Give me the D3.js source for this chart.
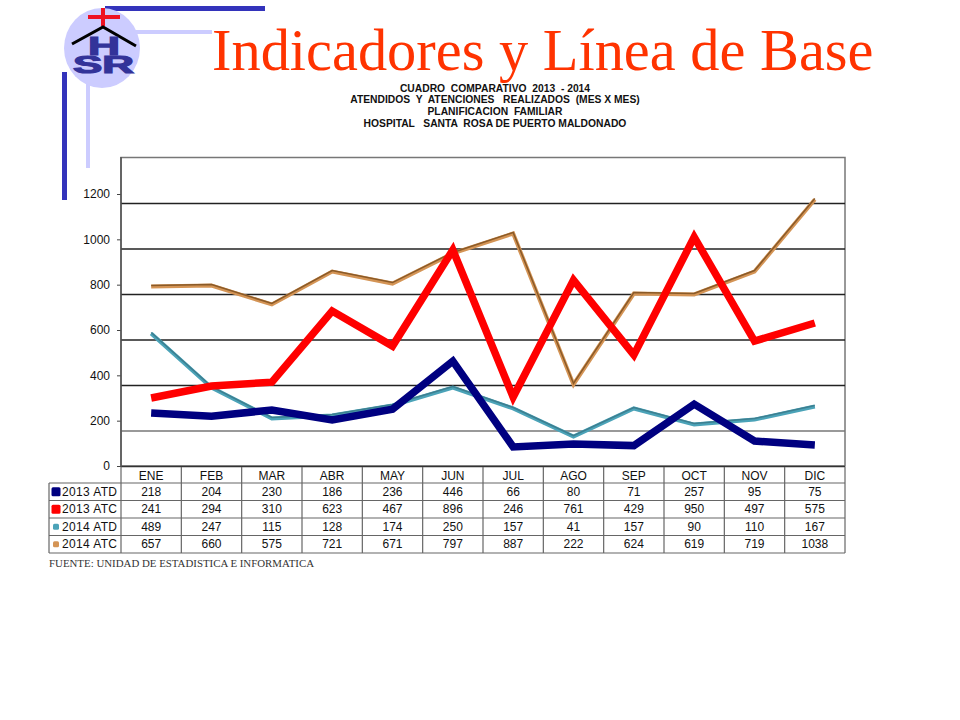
<!DOCTYPE html>
<html>
<head>
<meta charset="utf-8">
<script src="https://cdn.jsdelivr.net/npm/d3@7"></script>
<style>
body { margin: 0; background: #fff; }
svg { display: block; }
text { font-family: "Liberation Sans", Arial, sans-serif; fill: #111; }
</style>
</head>
<body>
<div id="chart"></div>
<script>
// Chart values
var months = ["ENE", "FEB", "MAR", "ABR", "MAY", "JUN", "JUL", "AGO", "SEP", "OCT", "NOV", "DIC"];
var seriesNames = ["2013 ATD", "2013 ATC", "2014 ATD", "2014 ATC"];
var yTicks = [0, 200, 400, 600, 800, 1000, 1200];
var gridValues = [154, 355, 556, 757, 957, 1158];

// Values in the table under the chart
var table2013Atd = [218, 204, 230, 186, 236, 446, 66, 80, 71, 257, 95, 75];
var table2013Atc = [241, 294, 310, 623, 467, 896, 246, 761, 429, 950, 497, 575];
var table2014Atd = [489, 247, 115, 128, 174, 250, 157, 41, 157, 90, 110, 167];
var table2014Atc = [657, 660, 575, 721, 671, 797, 887, 222, 624, 619, 719, 1038];

// Values as the lines are drawn (they differ from the table)
var line2013Atd = [234, 220, 247, 203, 251, 463, 84, 97, 90, 273, 110, 93];
var line2013Atc = [300, 353, 370, 684, 529, 953, 304, 820, 490, 1010, 551, 631];
var line2014Atd = [587, 348, 212, 225, 269, 348, 256, 132, 256, 185, 207, 265];
var line2014Atc = [794, 798, 715, 860, 807, 940, 1028, 362, 763, 759, 860, 1178];

var titleLines = [
    "CUADRO  COMPARATIVO  2013  - 2014",
    "ATENDIDOS  Y  ATENCIONES   REALIZADOS  (MES X MES)",
    "PLANIFICACION  FAMILIAR",
    "HOSPITAL   SANTA  ROSA DE PUERTO MALDONADO"
];

var svg = d3.select("#chart")
    .append("svg")
    .attr("width", 960)
    .attr("height", 720);

// Slide decoration and logo
var logo = svg.append("g");
logo.append("rect").attr("x", 105).attr("y", 6).attr("width", 160).attr("height", 5).attr("fill", "#3333bb");
logo.append("rect").attr("x", 62).attr("y", 72).attr("width", 5).attr("height", 128).attr("fill", "#3333bb");
logo.append("rect").attr("x", 130).attr("y", 30).attr("width", 82).attr("height", 4).attr("fill", "#ccccff");
logo.append("rect").attr("x", 86).attr("y", 80).attr("width", 4).attr("height", 88).attr("fill", "#ccccff");
logo.append("ellipse").attr("cx", 102).attr("cy", 48).attr("rx", 38).attr("ry", 40).attr("fill", "#ccccff");
logo.append("rect").attr("x", 88).attr("y", 15).attr("width", 32).attr("height", 4).attr("fill", "#ee1122");
logo.append("rect").attr("x", 101).attr("y", 8).attr("width", 4).attr("height", 18).attr("fill", "#ee1122");
logo.append("path").attr("d", "M72,44L103,27L136,46").attr("fill", "none").attr("stroke", "#000").attr("stroke-width", 3);
logo.append("text").attr("x", 88).attr("y", 55)
    .attr("textLength", 32).attr("lengthAdjust", "spacingAndGlyphs")
    .style("font-size", "26px").style("font-weight", "bold")
    .style("fill", "#333399").style("stroke", "#333399").style("stroke-width", 1.2).text("H");
logo.append("text").attr("x", 73).attr("y", 73)
    .attr("textLength", 61).attr("lengthAdjust", "spacingAndGlyphs")
    .style("font-size", "24px").style("font-weight", "bold")
    .style("fill", "#333399").style("stroke", "#333399").style("stroke-width", 1.2).text("SR");

// Slide title
svg.append("text")
    .attr("x", 212)
    .attr("y", 70)
    .style("font-family", "'Liberation Serif', serif")
    .style("font-size", "58.4px")
    .style("fill", "#ff3300")
    .text("Indicadores y Línea de Base");

// Chart title
svg.selectAll(".chartTitle")
    .data(titleLines)
    .enter()
    .append("text")
    .attr("class", "chartTitle")
    .attr("x", 495)
    .attr("y", (d, i) => 91.5 + i * 11.9)
    .attr("text-anchor", "middle")
    .style("font-size", "10.3px")
    .style("font-weight", "bold")
    .style("white-space", "pre")
    .attr("xml:space", "preserve")
    .text(d => d);

// Scales
var xBand = d3.scaleBand().domain(months).range([121, 845]);
var yScale = d3.scaleLinear().domain([0, 1200]).range([466, 194]);
var xCenter = d => xBand(d) + xBand.bandwidth() / 2;

// Plot frame
svg.append("rect")
    .attr("x", 121).attr("y", 157.5).attr("width", 724).attr("height", 308.5)
    .attr("fill", "#fff").attr("stroke", "#777").attr("stroke-width", 1.5);

// Grid lines
svg.selectAll(".grid")
    .data(gridValues)
    .enter()
    .append("line")
    .attr("class", "grid")
    .attr("x1", 121).attr("x2", 845)
    .attr("y1", d => yScale(d)).attr("y2", d => yScale(d))
    .attr("stroke", (d, i) => i == 0 ? "#777" : "#222")
    .attr("stroke-width", 1.5);

// Y axis
var yAxis = d3.axisLeft(yScale).tickValues(yTicks).tickSize(4).tickPadding(7).tickFormat(d3.format("d"));
var axisGroup = svg.append("g").attr("transform", "translate(121,0)").call(yAxis);
axisGroup.select(".domain").remove();
axisGroup.selectAll("text").style("font-size", "12px").style("font-family", "'Liberation Sans', sans-serif").attr("fill", "#111");
axisGroup.selectAll("line").attr("stroke", "#444");

svg.append("line").attr("x1", 121).attr("x2", 845).attr("y1", 466.5).attr("y2", 466.5).attr("stroke", "#333").attr("stroke-width", 1.5);
svg.append("line").attr("x1", 121).attr("x2", 121).attr("y1", 157).attr("y2", 467).attr("stroke", "#555").attr("stroke-width", 1.5);

// Lines
var lineGen = d3.line()
    .x((d, i) => xCenter(months[i]))
    .y(d => yScale(d));

function drawLine(values, color, width, dy) {
    svg.append("path")
        .datum(values)
        .attr("d", lineGen)
        .attr("transform", `translate(0, ${dy})`)
        .attr("fill", "none")
        .attr("stroke", color)
        .attr("stroke-width", width)
        .attr("stroke-linejoin", "miter");
}

drawLine(line2014Atc, "#d49455", 4, 0.5);
drawLine(line2014Atc, "#8a5a28", 1.5, -0.5);
drawLine(line2014Atd, "#4ba3b8", 4, 0.5);
drawLine(line2014Atd, "#3d7f90", 1.5, -0.5);
drawLine(line2013Atd, "#000080", 7.5, 0);
drawLine(line2013Atc, "#ff0000", 7.5, 0);

// Data table
var rows = [table2013Atd, table2013Atc, table2014Atd, table2014Atc];
var rowColors = ["#000080", "#ff0000", "#4ba3b8", "#d49455"];
var swatchSizes = [9, 9, 6, 6];
var rowEdges = [483, 500.5, 518, 535.5, 553];
var lineColor = "#666";

var table = svg.append("g");

// Header cells
table.selectAll(".head")
    .data(months)
    .enter()
    .append("text")
    .attr("class", "head")
    .attr("x", xCenter)
    .attr("y", 480)
    .attr("text-anchor", "middle")
    .style("font-size", "12px")
    .text(d => d);

// Table rules
rowEdges.forEach((y, i) => {
    table.append("line")
        .attr("x1", 49).attr("x2", 845)
        .attr("y1", y).attr("y2", y)
        .attr("stroke", lineColor)
        .attr("stroke-width", 1.2);
});
xBand.domain().concat(["end"]).forEach((m, i) => {
    var x = 121 + i * xBand.bandwidth();
    table.append("line")
        .attr("x1", x).attr("x2", x)
        .attr("y1", 467).attr("y2", 553)
        .attr("stroke", lineColor)
        .attr("stroke-width", 1.2);
});
table.append("line").attr("x1", 49).attr("x2", 49).attr("y1", 483).attr("y2", 553).attr("stroke", lineColor).attr("stroke-width", 1.2);

// Body cells and legend keys
rows.forEach((row, r) => {
    var baseline = rowEdges[r] + 12.5;
    var midY = (rowEdges[r] + rowEdges[r + 1]) / 2;
    table.append("rect")
        .attr("x", 56 - swatchSizes[r] / 2)
        .attr("y", midY - swatchSizes[r] / 2)
        .attr("width", swatchSizes[r])
        .attr("height", swatchSizes[r])
        .attr("rx", 1.5)
        .attr("fill", rowColors[r]);
    table.append("text")
        .attr("x", 62)
        .attr("y", baseline)
        .attr("textLength", 55)
        .attr("lengthAdjust", "spacing")
        .style("font-size", "12px")
        .text(seriesNames[r]);
    table.selectAll(".cell" + r)
        .data(row)
        .enter()
        .append("text")
        .attr("class", "cell" + r)
        .attr("x", (d, i) => xCenter(months[i]))
        .attr("y", baseline)
        .attr("text-anchor", "middle")
        .style("font-size", "12px")
        .text(d => d);
});

// Source note
svg.append("text")
    .attr("x", 49)
    .attr("y", 567)
    .attr("textLength", 265)
    .attr("lengthAdjust", "spacingAndGlyphs")
    .style("font-family", "'Liberation Serif', serif")
    .style("font-size", "10.5px")
    .style("fill", "#333")
    .text("FUENTE: UNIDAD DE ESTADISTICA E INFORMATICA");
</script>
</body>
</html>
